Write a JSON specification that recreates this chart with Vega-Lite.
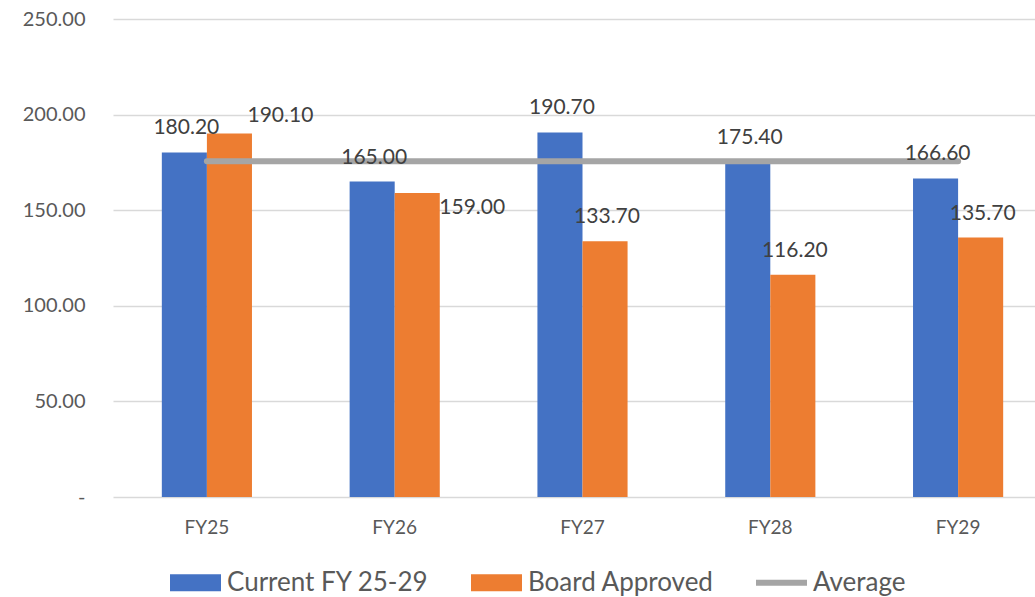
{
  "$schema": "https://vega.github.io/schema/vega-lite/v6.json",
  "autosize": {"type": "none"},
  "padding": {"left": 113, "top": 19, "right": 0, "bottom": 100},
  "width": 922,
  "height": 478,
  "background": "white",
  "config": {
    "font": "Lato",
    "view": {"stroke": null},
    "axis": {"labelFont": "Lato", "labelColor": "#595959"},
    "legend": {"labelFont": "Lato"}
  },
  "data": {
    "values": [
      {"year": "FY25", "series": "Current FY 25-29", "value": 180.2},
      {"year": "FY26", "series": "Current FY 25-29", "value": 165.0},
      {"year": "FY27", "series": "Current FY 25-29", "value": 190.7},
      {"year": "FY28", "series": "Current FY 25-29", "value": 175.4},
      {"year": "FY29", "series": "Current FY 25-29", "value": 166.6},
      {"year": "FY25", "series": "Board Approved", "value": 190.1},
      {"year": "FY26", "series": "Board Approved", "value": 159.0},
      {"year": "FY27", "series": "Board Approved", "value": 133.7},
      {"year": "FY28", "series": "Board Approved", "value": 116.2},
      {"year": "FY29", "series": "Board Approved", "value": 135.7},
      {"year": "FY25", "series": "Average", "value": 175.58},
      {"year": "FY26", "series": "Average", "value": 175.58},
      {"year": "FY27", "series": "Average", "value": 175.58},
      {"year": "FY28", "series": "Average", "value": 175.58},
      {"year": "FY29", "series": "Average", "value": 175.58}
    ]
  },
  "encoding": {
    "x": {
      "field": "year",
      "type": "nominal",
      "sort": ["FY25", "FY26", "FY27", "FY28", "FY29"],
      "scale": {"range": [0, 939], "paddingInner": 0.52, "paddingOuter": 0.26},
      "axis": {
        "title": null,
        "labelAngle": 0,
        "domain": false,
        "ticks": false,
        "labelPadding": 21,
        "labelFontSize": 19,
        "labelColor": "#595959"
      }
    },
    "y": {
      "field": "value",
      "type": "quantitative",
      "scale": {"domain": [0, 250], "nice": false},
      "axis": {
        "title": null,
        "values": [0, 50, 100, 150, 200, 250],
        "domain": false,
        "ticks": false,
        "grid": true,
        "gridColor": "#D9D9D9",
        "gridWidth": 1.3,
        "labelPadding": 28,
        "labelFontSize": 20,
        "labelColor": "#595959",
        "labelExpr": "datum.value === 0 ? '-\u00a0\u00a0' : format(datum.value, '.2f')"
      }
    }
  },
  "layer": [
    {
      "transform": [{"filter": "datum.series !== 'Average'"}],
      "mark": {"type": "bar"},
      "encoding": {
        "xOffset": {
          "field": "series",
          "type": "nominal",
          "scale": {"domain": ["Current FY 25-29", "Board Approved"], "paddingInner": 0, "paddingOuter": 0}
        },
        "color": {
          "field": "series",
          "type": "nominal",
          "scale": {
            "domain": ["Current FY 25-29", "Board Approved", "Average"],
            "range": ["#4472C4", "#ED7D31", "#A5A5A5"]
          },
          "legend": {
            "orient": "none",
            "legendX": 57,
            "legendY": 538,
            "direction": "horizontal",
            "title": null,
            "padding": 0,
            "symbolSize": 2601,
            "labelFontSize": 26,
            "labelLimit": 500,
            "labelColor": "#595959",
            "labelOffset": 6,
            "columnPadding": 42,
            "encode": {
              "symbols": {
                "update": {
                  "shape": {"signal": "datum.value === 'Average' ? 'M-1,-0.12H1V0.12H-1Z' : 'M-1,-0.333H1V0.333H-1Z'"},
                  "fill": {"scale": "color", "field": "value"},
                  "strokeWidth": {"value": 0},
                  "opacity": {"value": 1}
                }
              }
            }
          }
        }
      }
    },
    {
      "transform": [{"filter": "datum.series === 'Average'"}],
      "mark": {"type": "line", "strokeWidth": 6, "strokeCap": "round"},
      "encoding": {
        "color": {"field": "series", "type": "nominal"}
      }
    },
    {
      "transform": [{"filter": "datum.series === 'Current FY 25-29' || (datum.series === 'Board Approved' && datum.year !== 'FY25' && datum.year !== 'FY26')"}],
      "mark": {"type": "text", "dy": -24, "dx": 2, "baseline": "middle", "fontSize": 21, "color": "#404040"},
      "encoding": {
        "xOffset": {"field": "series", "type": "nominal", "scale": {"domain": ["Current FY 25-29", "Board Approved"]}},
        "text": {"field": "value", "type": "quantitative", "format": ".2f"}
      }
    },
    {
      "transform": [{"filter": "datum.series === 'Board Approved' && datum.year === 'FY25'"}],
      "mark": {"type": "text", "dy": -18, "dx": 51, "baseline": "middle", "fontSize": 21, "color": "#404040"},
      "encoding": {
        "xOffset": {"field": "series", "type": "nominal", "scale": {"domain": ["Current FY 25-29", "Board Approved"]}},
        "text": {"field": "value", "type": "quantitative", "format": ".2f"}
      }
    },
    {
      "transform": [{"filter": "datum.series === 'Board Approved' && datum.year === 'FY26'"}],
      "mark": {"type": "text", "dy": 15, "dx": 55, "baseline": "middle", "fontSize": 21, "color": "#404040"},
      "encoding": {
        "xOffset": {"field": "series", "type": "nominal", "scale": {"domain": ["Current FY 25-29", "Board Approved"]}},
        "text": {"field": "value", "type": "quantitative", "format": ".2f"}
      }
    }
  ]
}
